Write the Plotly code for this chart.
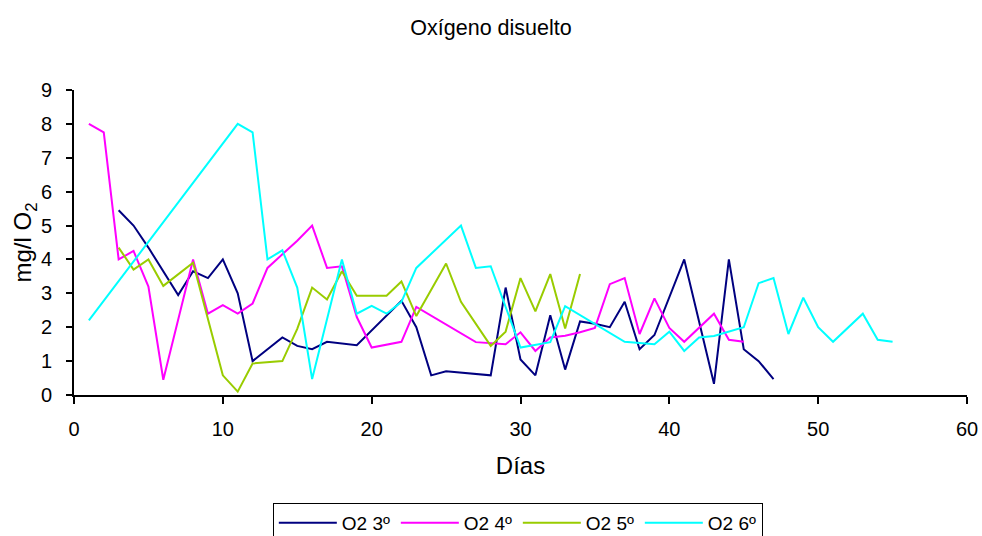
import plotly.graph_objects as go

# Días de muestreo y oxígeno disuelto (mg/l O2) por profundidad
dias_3 = [3, 4, 5, 6, 7, 8, 9, 10, 11, 12, 14, 15, 16, 17, 19, 22, 23, 24, 25, 28, 29, 30, 31, 32, 33, 34, 35, 36, 37, 38, 39, 41, 43, 44, 45, 46, 47]
o2_3 = [5.45, 5.0, 4.35, 3.65, 2.95, 3.65, 3.45, 4.0, 3.0, 1.0, 1.7, 1.45, 1.35, 1.57, 1.47, 2.78, 2.0, 0.58, 0.7, 0.58, 3.17, 1.05, 0.58, 2.35, 0.75, 2.17, 2.1, 2.0, 2.75, 1.35, 1.77, 4.0, 0.33, 4.0, 1.35, 1.0, 0.47]

dias_4 = [1, 2, 3, 4, 5, 6, 8, 9, 10, 11, 12, 13, 14, 15, 16, 17, 18, 19, 20, 22, 23, 27, 29, 30, 31, 32, 33, 34, 35, 36, 37, 38, 39, 40, 41, 43, 44, 45]
o2_4 = [8.0, 7.75, 4.0, 4.25, 3.2, 0.45, 4.0, 2.4, 2.65, 2.4, 2.7, 3.75, 4.15, 4.55, 5.0, 3.75, 3.8, 2.3, 1.4, 1.57, 2.6, 1.56, 1.5, 1.85, 1.3, 1.7, 1.75, 1.85, 1.98, 3.27, 3.45, 1.8, 2.85, 1.98, 1.57, 2.4, 1.63, 1.57]

dias_5 = [3, 4, 5, 6, 8, 10, 11, 12, 14, 15, 16, 17, 18, 19, 20, 21, 22, 23, 25, 26, 28, 29, 30, 31, 32, 33, 34]
o2_5 = [4.35, 3.7, 4.0, 3.22, 3.9, 0.58, 0.1, 0.93, 1.0, 1.95, 3.17, 2.82, 3.65, 2.93, 2.93, 2.93, 3.35, 2.33, 3.88, 2.75, 1.45, 1.87, 3.45, 2.47, 3.57, 1.96, 3.57]

dias_6 = [1, 11, 12, 13, 14, 15, 16, 18, 19, 20, 21, 22, 23, 26, 27, 28, 30, 31, 32, 33, 37, 39, 40, 41, 42, 43, 45, 46, 47, 48, 49, 50, 51, 53, 54, 55]
o2_6 = [2.2, 8.0, 7.75, 4.0, 4.27, 3.17, 0.47, 4.0, 2.4, 2.63, 2.4, 2.75, 3.75, 5.0, 3.75, 3.8, 1.4, 1.47, 1.56, 2.62, 1.57, 1.5, 1.87, 1.3, 1.7, 1.74, 2.0, 3.3, 3.45, 1.8, 2.87, 2.0, 1.57, 2.4, 1.63, 1.57]

series = [
    ("O2 3º", dias_3, o2_3, "#000080"),
    ("O2 4º", dias_4, o2_4, "#FF00FF"),
    ("O2 5º", dias_5, o2_5, "#99CC00"),
    ("O2 6º", dias_6, o2_6, "#00FFFF"),
]

fig = go.Figure()
for name, x, y, color in series:
    fig.add_trace(go.Scatter(x=x, y=y, name=name, mode="lines",
                             line=dict(color=color, width=2)))

W, H = 982, 536
font = "Liberation Sans, Arial, sans-serif"
fig.update_layout(
    width=W, height=H,
    margin=dict(l=73.5, r=15, t=90, b=141, autoexpand=False),
    paper_bgcolor="white", plot_bgcolor="white",
    font=dict(family=font, size=20, color="black"),
    title=dict(text="Oxígeno disuelto", x=0.5, xref="container", xanchor="center",
               y=1 - 27 / H, yref="container", yanchor="middle",
               font=dict(size=21.5)),
    xaxis=dict(range=[0, 60], dtick=10, showline=True, linecolor="black", linewidth=2,
               ticks="outside", ticklen=7, tickwidth=2, tickcolor="black",
               showgrid=False, zeroline=False, automargin=False,
               ticklabelstandoff=8,
               title=dict(text="Días", standoff=18)),
    yaxis=dict(range=[0, 9], dtick=1, showline=True, linecolor="black", linewidth=2,
               ticks="outside", ticklen=6, tickwidth=2, tickcolor="black",
               showgrid=False, zeroline=False, automargin=False,
               ticklabelstandoff=10,
               title=dict(text="mg/l O<sub>2</sub>", standoff=2)),
    legend=dict(orientation="h", x=0.497, xanchor="center",
                y=1 - 503 / H, yref="container", yanchor="top",
                itemwidth=58, entrywidth=49, entrywidthmode="pixels",
                bordercolor="black", borderwidth=1, bgcolor="white",
                font=dict(size=19)),
    showlegend=True,
)

fig.write_html("out.html")
